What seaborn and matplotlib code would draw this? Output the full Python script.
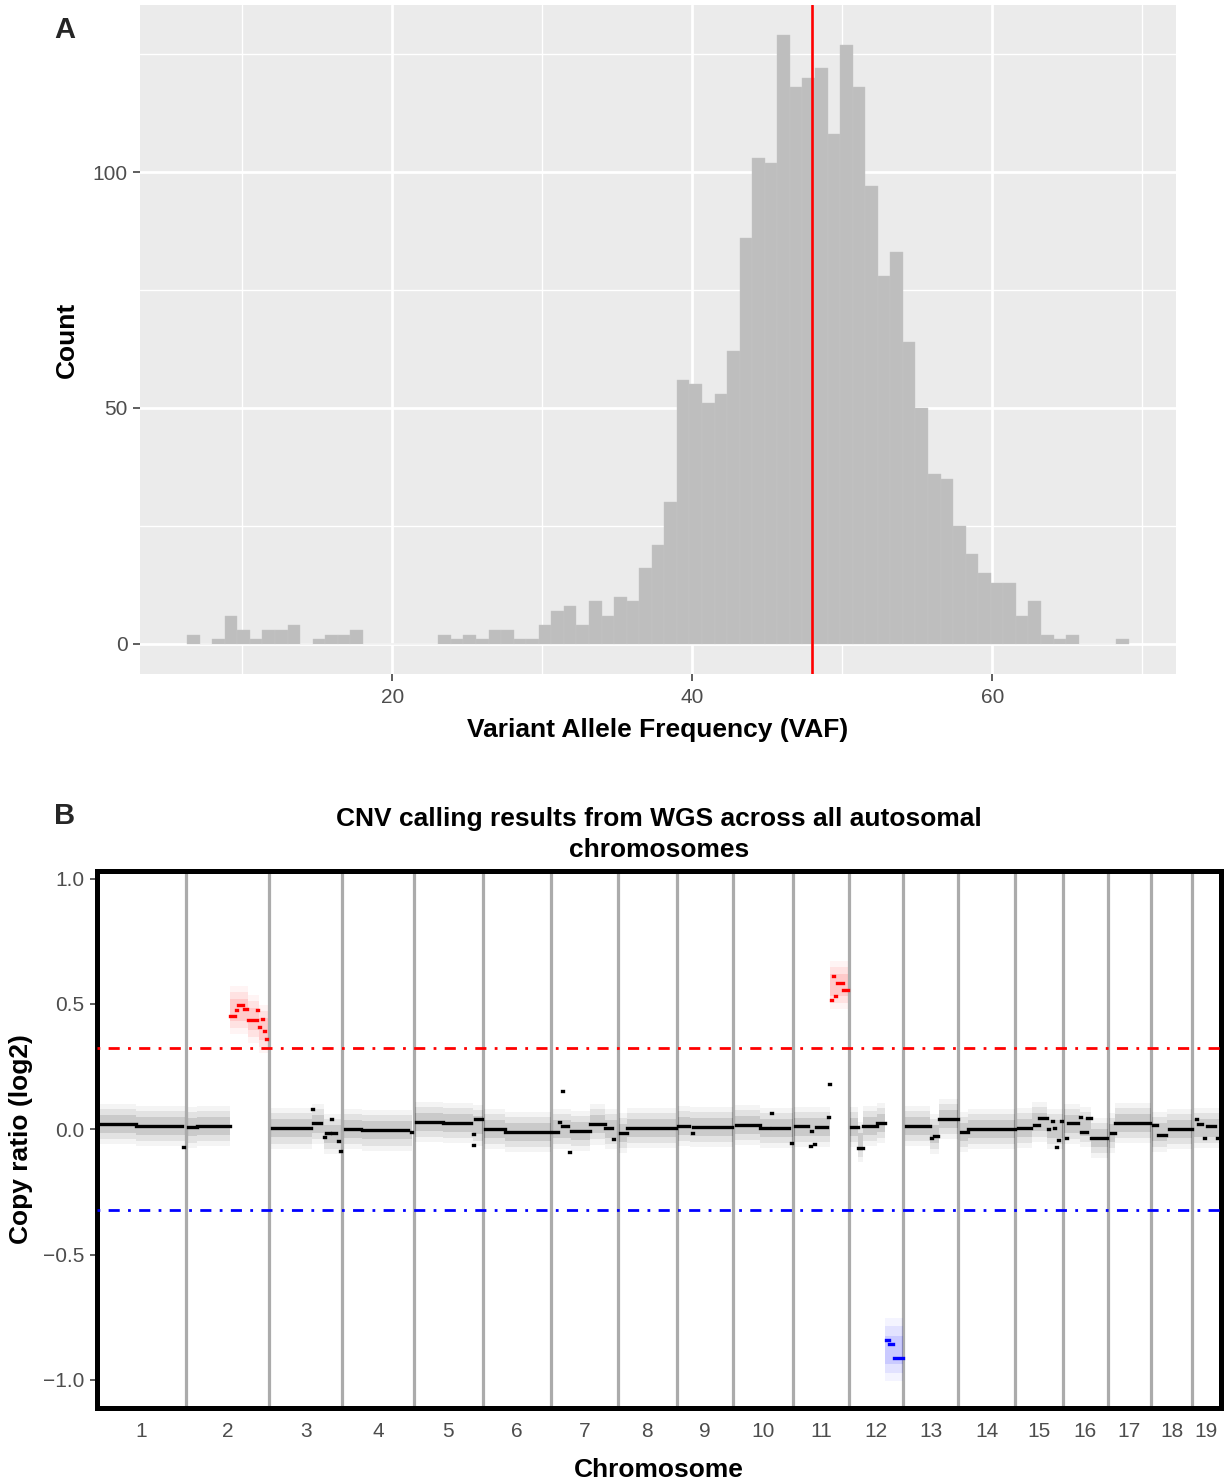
import numpy as np
import pandas as pd
import matplotlib
matplotlib.use("Agg")
import matplotlib.pyplot as plt
from matplotlib.ticker import FixedLocator
import seaborn as sns

# ---------------- Panel A data (VAF histogram) ----------------
vaf_bin_left = 6.33
vaf_bin_width = 0.837
vaf_counts = [2, 0, 1, 6, 3, 1, 3, 3, 4, 0, 1, 2, 2, 3,
              0, 0, 0, 0, 0, 0,
              2, 1, 2, 1, 3, 3, 1, 1, 4, 7, 8, 4, 9, 6, 10, 9, 16, 21,
              30, 56, 55, 51, 53, 62, 86, 103, 102, 129, 118, 120, 122, 108,
              127, 118, 97, 78, 83, 64, 50, 36, 35, 25,
              19, 15, 13, 13, 6, 9, 2, 1, 2,
              0, 0, 0, 1]
vaf_median = 48.0
vaf_xticks = [20, 40, 60]
vaf_xminor = [10, 30, 50, 70]
count_yticks = [0, 50, 100]
count_yminor = [25, 75, 125]

# ---------------- Panel B data (CNV segments) ----------------
chrom_labels = ['1', '2', '3', '4', '5', '6', '7', '8', '9', '10',
                '11', '12', '13', '14', '15', '16', '17', '18', '19']
chrom_lengths_mb = [195.5, 182.1, 160.0, 156.5, 151.8, 149.7, 145.4, 129.4,
                    124.6, 130.7, 122.1, 120.1, 120.4, 124.9, 104.0, 98.2,
                    95.3, 90.7, 61.4]

seg_chrom = [1, 1, 1,
             2, 2, 2, 2, 2, 2, 2, 2, 2, 2, 2, 2,
             3, 3, 3, 3, 3, 3, 3, 3, 3,
             4, 4, 4,
             5, 5, 5, 5, 5,
             6, 6,
             7, 7, 7, 7, 7, 7, 7, 7, 7,
             8, 8,
             9, 9, 9,
             10, 10, 10, 10, 10,
             11, 11, 11, 11, 11, 11, 11, 11, 11, 11, 11, 11,
             12, 12, 12, 12, 12, 12, 12,
             13, 13, 13, 13,
             14, 14,
             15, 15, 15, 15, 15, 15, 15, 15, 15, 15,
             16, 16, 16, 16, 16, 16,
             17, 17,
             18, 18, 18, 18,
             19, 19, 19, 19, 19]
seg_start_mb = [6.6, 85.5, 188.0,
                4.2, 23.9, 96.3, 109.4, 113.8, 127.0, 136.4, 156.1, 159.4, 166.0, 171.5, 175.9,
                6.1, 93.9, 96.0, 120.0, 124.6, 135.5, 137.7, 150.9, 155.3,
                6.4, 43.6, 151.0,
                5.5, 64.7, 130.5, 130.5, 134.9,
                5.0, 48.9,
                4.4, 17.5, 23.5, 24.1, 39.5, 43.9, 85.5, 118.4, 136.0,
                5.9, 21.3,
                3.7, 33.0, 36.6,
                6.4, 59.0, 82.0, 85.3, 126.0,
                3.9, 36.4, 40.2, 46.0, 50.0, 76.3, 78.5, 84.0, 87.3, 92.0, 96.1, 109.2,
                4.8, 20.2, 31.1, 61.8, 81.6, 88.2, 99.1,
                5.3, 60.0, 66.7, 77.6,
                5.5, 20.8,
                5.5, 37.7, 40.6, 51.5, 72.0, 79.5, 85.0, 88.2, 94.2, 100.0,
                8.0, 11.2, 37.0, 39.7, 52.9, 61.6,
                7.2, 16.0,
                4.5, 14.9, 36.0, 39.2,
                7.7, 12.0, 25.0, 31.8, 53.7]
seg_end_mb = [85.5, 186.4, 190.0,
              23.9, 96.3, 107.2, 111.6, 124.8, 133.6, 156.1, 158.3, 161.6, 169.3, 173.7, 178.1,
              91.7, 95.5, 113.6, 122.0, 133.3, 137.5, 146.5, 152.7, 157.1,
              41.4, 144.5, 153.0,
              64.7, 126.1, 132.5, 132.5, 150.2,
              48.9, 147.6,
              15.4, 19.5, 25.5, 37.3, 41.5, 85.5, 118.4, 133.8, 138.0,
              21.3, 128.7,
              27.9, 35.0, 122.1,
              59.0, 78.7, 84.0, 122.6, 128.0,
              32.5, 38.4, 42.2, 48.0, 74.1, 78.3, 80.3, 86.0, 89.1, 94.0, 109.2, 120.2,
              20.2, 31.1, 61.8, 79.4, 88.2, 96.9, 118.9,
              57.9, 62.0, 75.4, 119.3,
              20.8, 123.9,
              34.0, 39.5, 51.5, 69.1, 74.0, 81.5, 87.0, 90.2, 96.2, 102.0,
              10.0, 33.1, 39.0, 52.9, 61.6, 96.7,
              16.0, 92.8,
              13.3, 32.5, 38.0, 89.0,
              9.5, 20.8, 27.0, 49.3, 56.0]
seg_log2 = [0.020, 0.012, -0.070,
            0.007, 0.013, 0.451, 0.474, 0.497, 0.478, 0.437, 0.474, 0.408, 0.438, 0.390, 0.360,
            0.003, 0.082, 0.024, -0.030, -0.016, 0.041, -0.016, -0.048, -0.085,
            0.001, -0.005, -0.010,
            0.028, 0.025, -0.021, -0.063, 0.041,
            0.001, -0.011,
            -0.013, 0.027, 0.151, 0.014, -0.090, -0.006, 0.019, 0.003, -0.040,
            -0.016, 0.005,
            0.014, -0.017, 0.008,
            0.018, 0.003, 0.063, 0.006, -0.055,
            0.013, -0.066, -0.007, -0.060, 0.008, 0.049, 0.180, 0.516, 0.611, 0.530, 0.584, 0.554,
            0.008, -0.074, 0.013, 0.025, -0.840, -0.858, -0.914,
            0.014, -0.034, -0.027, 0.039,
            -0.012, 0.000,
            0.006, 0.050, 0.015, 0.046, -0.001, 0.033, 0.003, -0.070, -0.044, 0.033,
            -0.037, 0.025, 0.049, -0.012, 0.043, -0.035,
            -0.014, 0.025,
            0.015, -0.025, 0.053, 0.000,
            0.040, 0.022, -0.035, 0.011, -0.035]

# extent of the per-bin point cloud around the segments
cloud_chrom = [1, 1, 2, 2, 2, 2, 2, 3, 3, 3, 4, 4, 5, 5, 5, 6, 6, 7, 7, 7, 7,
               8, 8, 9, 9, 10, 10, 11, 11, 11, 12, 12, 12, 12, 12,
               13, 13, 13, 14, 14, 15, 15, 15, 16, 16, 16, 17, 17, 18, 18, 19]
cloud_start_mb = [3, 85.5, 3, 23.9, 96.3, 136, 160, 3, 93, 120, 3, 43, 3, 65, 130,
                  3, 49, 3, 44, 85.5, 118, 3, 21, 3, 30, 3, 59, 3, 45, 82,
                  3, 20, 31, 62, 80, 3, 58, 77, 3, 21, 3, 37, 70, 3, 37, 62,
                  3, 16, 3, 35, 3]
cloud_end_mb = [85.5, 192, 23.9, 96.3, 136, 160, 180, 93, 120, 158, 43, 154, 65, 130, 151,
                49, 149, 44, 85.5, 118, 145, 21, 129, 30, 124, 59, 130, 45, 80, 121,
                20, 31, 62, 80, 120, 58, 77, 120, 21, 124, 37, 70, 104, 37, 62, 98,
                16, 95, 35, 90, 61]
cloud_center = [0.020, 0.012, 0.007, 0.013, 0.475, 0.440, 0.400, 0.003, 0.020, -0.020,
                0.001, -0.005, 0.028, 0.025, 0.015, 0.001, -0.011, 0.000, -0.006, 0.019,
                0.000, -0.016, 0.005, 0.014, 0.008, 0.018, 0.005, 0.010, 0.008, 0.575,
                0.008, -0.050, 0.013, 0.025, -0.880, 0.014, -0.020, 0.039, -0.012, 0.000,
                0.006, 0.030, 0.000, 0.020, 0.010, -0.035, -0.014, 0.025, -0.010, 0.000,
                0.005]
cloud_halfwidth_normal = 0.080
cloud_halfwidth_gain = 0.095
cloud_halfwidth_loss = 0.125

gain_threshold = 0.322
loss_threshold = -0.322
copy_ratio_yticks = [-1.0, -0.5, 0.0, 0.5, 1.0]

# ---------------- Styling ----------------
sns.set_theme(style="darkgrid")
plt.rcParams['font.family'] = ['Liberation Sans', 'DejaVu Sans']
TICK_GREY = '#4D4D4D'
TICK_FS = 15
TITLE_FS = 19

W, H = 1225, 1483
fig = plt.figure(figsize=(W / 100, H / 100), dpi=100)
fig.patch.set_facecolor('white')

# ======================= Panel A =======================
axA = fig.add_axes([140 / W, 1 - 674.4 / H, 1036 / W, 669.7 / H])
axA.set_facecolor('#EBEBEB')
edges = [float(v) for v in vaf_bin_left + vaf_bin_width * np.arange(len(vaf_counts) + 1)]
centers = [(a + b) / 2 for a, b in zip(edges[:-1], edges[1:])]
dfA = pd.DataFrame({'vaf': centers, 'count': vaf_counts})
sns.histplot(data=dfA, x='vaf', weights='count', bins=edges,
             color='#BEBEBE', alpha=1.0, edgecolor='#C7C7C7', linewidth=0.3,
             ax=axA, zorder=2)
axA.axvline(vaf_median, color='#FF0000', lw=1.9, zorder=3)
axA.set_xlim(3.19, 72.24)
axA.set_ylim(-6.45, 135.45)
axA.xaxis.set_major_locator(FixedLocator(vaf_xticks))
axA.xaxis.set_minor_locator(FixedLocator(vaf_xminor))
axA.yaxis.set_major_locator(FixedLocator(count_yticks))
axA.yaxis.set_minor_locator(FixedLocator(count_yminor))
axA.set_axisbelow(True)
axA.grid(which='major', color='white', lw=2.0)
axA.grid(which='minor', color='white', lw=1.0)
for s in axA.spines.values():
    s.set_visible(False)
axA.tick_params(axis='x', which='major', bottom=True, length=5, width=1.1,
                color='#333333', labelsize=TICK_FS, labelcolor=TICK_GREY, pad=5)
axA.tick_params(axis='y', which='major', left=True, length=5, width=1.1,
                color='#333333', labelsize=TICK_FS, labelcolor=TICK_GREY, pad=4)
axA.tick_params(which='minor', length=0)
axA.set_xlabel('Variant Allele Frequency (VAF)', fontsize=TITLE_FS, fontweight='bold',
               labelpad=8, color='black')
axA.set_ylabel('Count', fontsize=TITLE_FS, fontweight='bold', labelpad=10, color='black')

# ======================= Panel B =======================
axB = fig.add_axes([97 / W, 1 - 1408 / H, 1123.5 / W, 537 / H])
axB.set_facecolor('white')
axB.grid(False)

offsets = np.concatenate([[0.0], np.cumsum(chrom_lengths_mb)[:-1]])
genome_end = float(np.sum(chrom_lengths_mb))
ylo, yhi = -1.112, 1.03

# chromosome dividers
axB.vlines(offsets[1:], ylo, yhi, colors='#ABABAB', lw=2.3, zorder=1)

# point clouds (drawn as soft bands around the segment level)
for c, s, e, m in zip(cloud_chrom, cloud_start_mb, cloud_end_mb, cloud_center):
    if m > gain_threshold:
        col, hw = '#FF0000', cloud_halfwidth_gain
    elif m < loss_threshold:
        col, hw = '#0000FF', cloud_halfwidth_loss
    else:
        col, hw = '#000000', cloud_halfwidth_normal
    xs = [offsets[c - 1] + s, offsets[c - 1] + e]
    for frac, a in [(1.0, 0.045), (0.75, 0.07), (0.45, 0.10)]:
        axB.fill_between(xs, [m - hw * frac] * 2, [m + hw * frac] * 2,
                         color=col, alpha=a, lw=0, zorder=2)

# thresholds
axB.axhline(gain_threshold, color='#FF0000', lw=2.0, ls=(0, (1, 3, 4, 3)), zorder=3)
axB.axhline(loss_threshold, color='#0000FF', lw=2.0, ls=(0, (1, 3, 4, 3)), zorder=3)

# segments
seg_df = pd.DataFrame({'chrom': seg_chrom, 'start': seg_start_mb,
                       'end': seg_end_mb, 'log2': seg_log2})
seg_df['gstart'] = offsets[seg_df['chrom'].values - 1] + seg_df['start']
seg_df['gend'] = offsets[seg_df['chrom'].values - 1] + seg_df['end']
seg_colors = ['#FF0000' if v > gain_threshold else ('#0000FF' if v < loss_threshold else '#000000')
              for v in seg_df['log2']]
lc = axB.hlines(seg_df['log2'], seg_df['gstart'], seg_df['gend'],
                colors=seg_colors, lw=2.4, zorder=4)
lc.set_capstyle('projecting')

axB.set_xlim(0, genome_end)
axB.set_ylim(ylo, yhi)
chrom_centers = offsets + np.array(chrom_lengths_mb) / 2
axB.set_xticks(chrom_centers)
axB.set_xticklabels(chrom_labels)
axB.yaxis.set_major_locator(FixedLocator(copy_ratio_yticks))
for s in axB.spines.values():
    s.set_visible(True)
    s.set_color('black')
    s.set_linewidth(3.6)
axB.tick_params(axis='y', which='major', left=True, length=5, width=1.1,
                color='#333333', labelsize=TICK_FS, labelcolor=TICK_GREY, pad=4)
axB.tick_params(axis='x', which='major', bottom=False, length=0,
                labelsize=TICK_FS, labelcolor=TICK_GREY, pad=10)
axB.set_xlabel('Chromosome', fontsize=TITLE_FS, fontweight='bold', labelpad=12, color='black')
axB.set_ylabel('Copy ratio (log2)', fontsize=TITLE_FS, fontweight='bold', labelpad=7, color='black')
axB.set_title('CNV calling results from WGS across all autosomal\nchromosomes',
              fontsize=TITLE_FS, fontweight='bold', pad=10, color='black', linespacing=1.36)

fig.text(65 / W, 1 - 30 / H, 'A', fontsize=21, fontweight='bold', ha='center', va='center')
fig.text(65 / W, 1 - 816 / H, 'B', fontsize=21, fontweight='bold', ha='center', va='center')

fig.savefig('out.png', dpi=100, facecolor='white')
